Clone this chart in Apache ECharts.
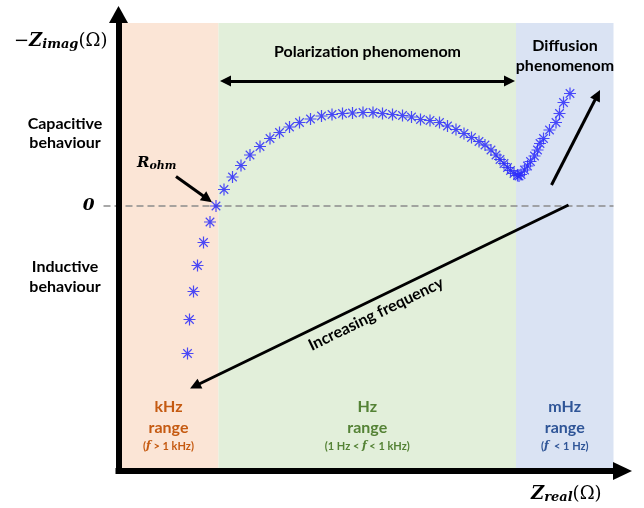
<!DOCTYPE html>
<html>
<head>
<meta charset="utf-8">
<script src="https://cdn.jsdelivr.net/npm/echarts@6/dist/echarts.min.js"></script>
<style>
  html, body { margin: 0; padding: 0; background: #fff; }
  #chart { width: 644px; height: 508px; }
</style>
</head>
<body>
<div id="chart"></div>
<script>
// Nyquist sketch: -Zimag against Zreal, arbitrary units

// inductive tail below the real axis (highest frequencies)
const inductive = [[13.8, -29.5], [14.2, -22.7], [15.0, -17.1], [15.8, -11.9], [17.0, -7.3], [18.3, -3.2], [19.5, 0]];
// polarization arc
const arc = [
  [21.1, 3.3], [22.8, 5.8], [24.5, 8.1], [26.3, 10.2], [28.3, 11.9], [30.3, 13.5], [32.2, 14.7], [34.2, 15.8],
  [36.2, 16.7], [38.4, 17.4], [40.6, 18.0], [42.7, 18.3], [44.8, 18.5], [46.8, 18.6], [48.9, 18.7], [50.9, 18.7],
  [52.8, 18.5], [54.8, 18.3], [56.8, 18.1], [58.6, 17.8], [60.4, 17.3], [62.3, 17.1], [64.2, 16.7], [65.8, 16.0],
  [67.5, 15.3], [69.1, 14.5], [70.6, 13.7], [72.1, 12.9], [73.3, 12.2], [74.5, 11.2], [75.5, 10.2], [76.3, 9.3],
  [77.1, 8.5], [77.8, 7.7], [78.4, 7.1], [79.1, 6.5], [79.8, 6.1], [80.1, 6.0]
];
// diffusion tail (lowest frequencies)
const diffusion = [
  [80.5, 6.3], [81.2, 7.2], [81.8, 8.0], [82.4, 8.9], [83.2, 10.0], [83.8, 11.2], [84.3, 12.5], [85.0, 13.5],
  [86.2, 15.2], [87.5, 16.7], [88.2, 18.5], [89.0, 20.7], [90.3, 22.5]
];

// frequency ranges along Zreal
const rangeNames = ['kHz', 'Hz', 'mHz'];
const rangeFrom = [0, 20, 79.5];
const rangeTo = [20, 79.5, 99];
const rangeFill = ['#fbe5d6', '#e2efda', '#dae3f3'];
const rangeText = ['#c55a11', '#548235', '#2f5597'];

// annotation arrows [from, to]
const polarizationArrow = [[21.4, 25.0], [78.2, 25.0]];
const rohmArrow = [[11.5, 5.9], [17.8, 1.4]];
const diffusionArrow = [[86.6, 4.2], [95.8, 22.2]];
const frequencyArrow = [[90.0, 0.2], [15.3, -36.0]];
const zeroLine = [[-3, 0], [99, 0]];

const SANS = 'Lato';
const SERIF = 'DejaVu Serif';
const STAR = 'path://M9,0H11V20H9Z M0,9H20V11H0Z M2.2,3.6L3.6,2.2L17.8,16.4L16.4,17.8Z M16.4,2.2L17.8,3.6L3.6,17.8L2.2,16.4Z';

const chart = echarts.init(document.getElementById('chart'));

function rangeLabel(i) {
  const c = rangeText[i];
  let note;
  if (i === 0) note = '{n|(}{f|f}{n| > 1 kHz)}';
  else if (i === 1) note = '{n|(1 Hz < }{f|f}{n| < 1 kHz)}';
  else note = '{n|(}{f|f}{n|  < 1 Hz)}';
  return {
    show: true,
    position: 'insideBottom',
    distance: 16,
    formatter: '{a|' + rangeNames[i] + '}\n{a|range}\n' + note,
    rich: {
      a: { fontFamily: SANS, fontWeight: 'bold', fontSize: 16, lineHeight: 21, color: c, align: 'center' },
      n: { fontFamily: SANS, fontWeight: 'bold', fontSize: 11, lineHeight: 17, color: c },
      f: { fontFamily: SERIF, fontStyle: 'italic', fontWeight: 'bold', fontSize: 11, lineHeight: 17, color: c }
    }
  };
}

const areas = rangeNames.map(function (n, i) {
  return [
    { xAxis: rangeFrom[i], yAxis: -53, itemStyle: { color: rangeFill[i] }, label: rangeLabel(i) },
    { xAxis: rangeTo[i], yAxis: 36.6 }
  ];
});

function arrow(pts, both, label) {
  return [
    { coord: pts[0], symbol: both ? 'triangle' : 'none', label: label || { show: false } },
    { coord: pts[1], symbol: 'triangle' }
  ];
}

function text(x, y, str, extra) {
  return Object.assign({
    type: 'text', x: x, y: y, z: 100, silent: true,
    style: Object.assign({
      text: str, align: 'center', verticalAlign: 'middle', lineHeight: 20,
      fontFamily: SANS, fontWeight: 'bold', fontSize: 16, fill: '#000'
    }, extra || {})
  });
}

const mathRich = {
  m: { fontFamily: SERIF, fontSize: 18, fill: '#000' },
  z: { fontFamily: SERIF, fontWeight: 'bold', fontStyle: 'italic', fontSize: 18, fill: '#000' },
  s: { fontFamily: SERIF, fontWeight: 'bold', fontStyle: 'italic', fontSize: 13, padding: [8, 0, 0, 0], fill: '#000' },
  p: { fontFamily: SERIF, fontSize: 18, fill: '#000' },
  rr: { fontFamily: SERIF, fontWeight: 'bold', fontStyle: 'italic', fontSize: 15, fill: '#000' },
  ss: { fontFamily: SERIF, fontWeight: 'bold', fontStyle: 'italic', fontSize: 11, padding: [7, 0, 0, 0], fill: '#000' }
};

chart.setOption({
  animation: false,
  grid: { left: 118.5, right: 25.5, top: 21, bottom: 37, outerBoundsMode: 'none' },
  xAxis: {
    type: 'value', min: 0, max: 100, z: 10,
    axisLine: {
      onZero: false,
      symbol: ['none', 'triangle'], symbolSize: [18, 19], symbolOffset: [0, 4],
      lineStyle: { color: '#000', width: 6, cap: 'square' }
    },
    axisTick: { show: false }, axisLabel: { show: false }, splitLine: { show: false }
  },
  yAxis: {
    type: 'value', min: -53, max: 37, z: 10,
    axisLine: {
      show: true, onZero: false,
      symbol: ['none', 'triangle'], symbolSize: [19, 17], symbolOffset: [0, 6.5],
      lineStyle: { color: '#000', width: 6, cap: 'square' }
    },
    axisTick: { show: false },
    axisLabel: {
      customValues: [0], margin: 24,
      fontFamily: SERIF, fontWeight: 'bold', fontStyle: 'italic', fontSize: 17, color: '#000'
    },
    splitLine: { show: false }
  },
  series: [
    {
      type: 'line', name: 'ranges', data: [], z: 1, silent: true,
      markArea: { silent: true, data: areas }
    },
    {
      type: 'line', name: 'impedance', z: 3, silent: true, clip: false,
      data: inductive.concat(arc, diffusion),
      symbol: STAR, symbolSize: 12, showAllSymbol: true,
      itemStyle: { color: 'rgba(45,45,250,0.85)' },
      lineStyle: { width: 0, opacity: 0 }
    },
    {
      type: 'line', name: 'annotations', data: [], z: 4, silent: true,
      markLine: {
        silent: true, symbolSize: 11,
        lineStyle: { color: '#000', width: 3, type: 'solid' },
        label: { show: false },
        data: [
          arrow(polarizationArrow, true, {
            show: true, position: 'insideMiddleTop', distance: 21, formatter: 'Polarization phenomenom',
            fontFamily: SANS, fontWeight: 'bold', fontSize: 16, color: '#000'
          }),
          arrow(rohmArrow, false),
          arrow(diffusionArrow, false),
          arrow(frequencyArrow, false)
        ]
      }
    }
  ]
});

// dashed zero line reaches left of the vertical axis, so it is placed from the grid's own scale
const p0 = chart.convertToPixel({ gridIndex: 0 }, zeroLine[0]);
const p1 = chart.convertToPixel({ gridIndex: 0 }, zeroLine[1]);
const fa = chart.convertToPixel({ gridIndex: 0 }, frequencyArrow[0]);
const fb = chart.convertToPixel({ gridIndex: 0 }, frequencyArrow[1]);
const freqAngle = Math.atan2(fb[1] - fa[1], fa[0] - fb[0]);

chart.setOption({
  graphic: [
    {
      type: 'line', z: 2, silent: true,
      shape: { x1: p0[0], y1: p0[1], x2: p1[0], y2: p1[1] },
      style: { stroke: '#8c8c8c', lineWidth: 1.5, lineDash: [7, 4] }
    },
    text(14, 41, '{m|−}{z|Z}{s|imag}{p|(Ω)}', { align: 'left', rich: mathRich }),
    text(137, 163, '{rr|R}{ss|ohm}', { align: 'left', rich: mathRich }),
    text(531, 494, '{z|Z}{s|real}{p|(Ω)}', { align: 'left', rich: mathRich }),
    text(65, 133, 'Capacitive\nbehaviour', { lineHeight: 19 }),
    text(65, 277, 'Inductive\nbehaviour'),
    text(565, 56, 'Diffusion\nphenomenom'),
    Object.assign(text(376, 314, 'Increasing frequency'), { rotation: freqAngle })
  ]
});
</script>
</body>
</html>
